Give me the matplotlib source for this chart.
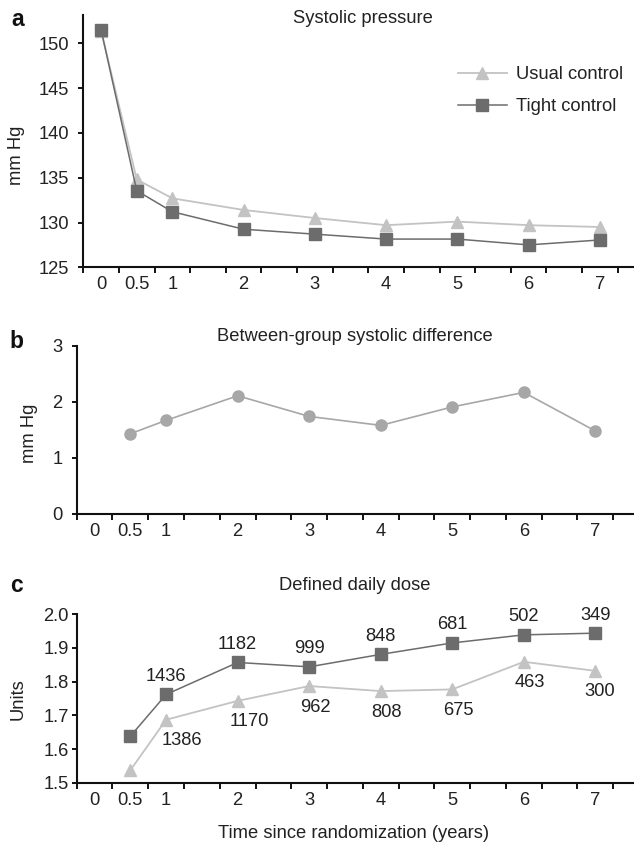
import matplotlib
matplotlib.use("Agg")
import matplotlib.pyplot as plt
from matplotlib.ticker import FixedLocator, FuncFormatter

plt.rcParams['font.family'] = ['Liberation Sans', 'DejaVu Sans']

# ---------------- data ----------------
years = [0, 0.5, 1, 2, 3, 4, 5, 6, 7]
year_labels = ["0", "0.5", "1", "2", "3", "4", "5", "6", "7"]

sys_usual = [151.4, 134.8, 132.7, 131.4, 130.5, 129.7, 130.1, 129.7, 129.5]
sys_tight = [151.5, 133.55, 131.2, 129.25, 128.7, 128.15, 128.15, 127.5, 128.05]

diff_years = [0.5, 1, 2, 3, 4, 5, 6, 7]
sys_diff = [1.43, 1.67, 2.11, 1.74, 1.58, 1.91, 2.17, 1.48]

ddd_years = [0.5, 1, 2, 3, 4, 5, 6, 7]
ddd_tight = [1.638, 1.762, 1.857, 1.844, 1.881, 1.915, 1.939, 1.944]
ddd_usual = [1.537, 1.687, 1.743, 1.787, 1.772, 1.777, 1.859, 1.832]
n_tight = [None, 1436, 1182, 999, 848, 681, 502, 349]
n_usual = [None, 1386, 1170, 962, 808, 675, 463, 300]

# ---------------- styling ----------------
W, H = 634, 844
C_USUAL = "#c3c3c3"
C_TIGHT = "#6c6c6c"
C_DIFF = "#a7a7a7"
TXT = "#222222"
FS = 13.2

fig = plt.figure(figsize=(W / 100, H / 100), dpi=100)


def fx(x):
    return x / W


def fy(y):
    return 1 - y / H


def make_axes(left, top, bottom, right=W):
    return fig.add_axes([fx(left), fy(bottom), fx(right - left), (bottom - top) / H])


def style_axes(ax, ypad):
    for s in ("top", "right"):
        ax.spines[s].set_visible(False)
    for s in ("left", "bottom"):
        ax.spines[s].set_linewidth(1.5)
        ax.spines[s].set_color("#111111")
        ax.spines[s].set_clip_on(False)
    ax.xaxis.set_major_locator(FixedLocator(years))
    ax.set_xticklabels(year_labels)
    ax.xaxis.set_minor_locator(FixedLocator([-0.25 + 0.5 * k for k in range(16)]))
    ax.tick_params(axis="x", which="major", length=0, pad=6.5, labelsize=FS, labelcolor=TXT)
    ax.tick_params(axis="x", which="minor", length=4.3, width=1.4, direction="out", color="#111111")
    ax.tick_params(axis="y", which="major", length=3.6, width=1.4, direction="out",
                   pad=ypad, labelsize=FS, labelcolor=TXT, color="#111111")
    ax.patch.set_alpha(0)


# ---------------- panel a ----------------
axa = make_axes(83.3, 15, 267.3)
axa.set_xlim(-0.25, 7.48)
axa.set_ylim(125, 153.16)
axa.set_yticks([125, 130, 135, 140, 145, 150])
style_axes(axa, 6.5)
axa.plot(years, sys_usual, color=C_USUAL, lw=1.3, marker="^", ms=8, mfc=C_USUAL, mec=C_USUAL,
         label="Usual control", clip_on=False, zorder=3)
axa.plot(years, sys_tight, color=C_TIGHT, lw=1.1, marker="s", ms=8.6, mfc=C_TIGHT, mec=C_TIGHT,
         label="Tight control", clip_on=False, zorder=4)
leg = axa.legend(loc="upper left", bbox_to_anchor=(fx(458), fy(66)), bbox_transform=fig.transFigure,
                 frameon=False, fontsize=FS, handlelength=2.65, handletextpad=0.5,
                 labelspacing=0.82, borderpad=0, borderaxespad=0)
for t in leg.get_texts():
    t.set_color(TXT)

# ---------------- panel b ----------------
axb = make_axes(76.7, 346, 513.7)
axb.set_xlim(-0.25, 7.54)
axb.set_ylim(0, 3)
axb.set_yticks([0, 1, 2, 3])
style_axes(axb, 6.5)
axb.plot(diff_years, sys_diff, color=C_DIFF, lw=1.2, marker="o", ms=8, mfc=C_DIFF, mec=C_DIFF,
         clip_on=False, zorder=3)

# ---------------- panel c ----------------
axc = make_axes(76.7, 614.3, 782.7)
axc.set_xlim(-0.25, 7.54)
axc.set_ylim(1.5, 2.0)
axc.set_yticks([1.5, 1.6, 1.7, 1.8, 1.9, 2.0])
axc.yaxis.set_major_formatter(FuncFormatter(lambda v, p: f"{v:.1f}"))
style_axes(axc, 2.2)
axc.plot(ddd_years, ddd_usual, color=C_USUAL, lw=1.3, marker="^", ms=8, mfc=C_USUAL, mec=C_USUAL,
         clip_on=False, zorder=3)
axc.plot(ddd_years, ddd_tight, color=C_TIGHT, lw=1.1, marker="s", ms=8.6, mfc=C_TIGHT, mec=C_TIGHT,
         clip_on=False, zorder=4)

usual_dx = [0, 16, 12, 6, 6, 6, 6, 4]
for i, (x, y, n) in enumerate(zip(ddd_years, ddd_tight, n_tight)):
    if n is None:
        continue
    axc.annotate(str(n), (x, y), xytext=(0, 18), textcoords="offset pixels",
                 ha="center", va="center", fontsize=FS, color=TXT)
for i, (x, y, n) in enumerate(zip(ddd_years, ddd_usual, n_usual)):
    if n is None:
        continue
    axc.annotate(str(n), (x, y), xytext=(usual_dx[i], -21), textcoords="offset pixels",
                 ha="center", va="center", fontsize=FS, color=TXT)

# ---------------- titles, labels ----------------
fig.text(fx(362.9), fy(18.3), "Systolic pressure", ha="center", va="center", fontsize=FS, color=TXT)
fig.text(fx(355), fy(336.7), "Between-group systolic difference", ha="center", va="center",
         fontsize=FS, color=TXT)
fig.text(fx(354.5), fy(585), "Defined daily dose", ha="center", va="center", fontsize=FS, color=TXT)
fig.text(fx(354), fy(833.3), "Time since randomization (years)", ha="center", va="center",
         fontsize=FS, color=TXT)

axa.set_ylabel("mm Hg", fontsize=FS, color=TXT)
axa.yaxis.set_label_coords(fx(16.7), fy(155), transform=fig.transFigure)
axb.set_ylabel("mm Hg", fontsize=FS, color=TXT)
axb.yaxis.set_label_coords(fx(30), fy(433), transform=fig.transFigure)
axc.set_ylabel("Units", fontsize=FS, color=TXT)
axc.yaxis.set_label_coords(fx(18.3), fy(699), transform=fig.transFigure)
for ax in (axa, axb, axc):
    ax.yaxis.label.set_va("center")
    ax.yaxis.label.set_ha("center")

fig.text(fx(18), fy(19), "a", ha="center", va="center", fontsize=16.5, fontweight="bold", color="#111111")
fig.text(fx(16.7), fy(342), "b", ha="center", va="center", fontsize=16.5, fontweight="bold", color="#111111")
fig.text(fx(16.7), fy(586), "c", ha="center", va="center", fontsize=16.5, fontweight="bold", color="#111111")

fig.savefig("out.png", dpi=100)
